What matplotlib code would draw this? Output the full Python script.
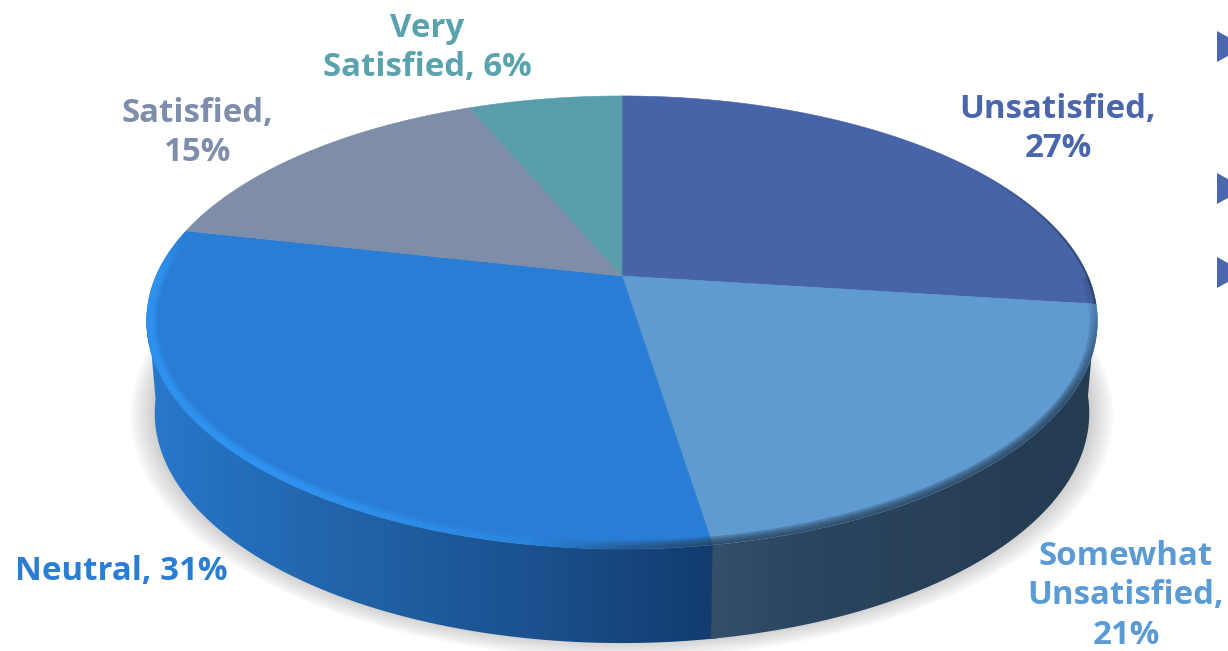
import numpy as np
import matplotlib
matplotlib.use("Agg")
import matplotlib.pyplot as plt
from matplotlib.collections import LineCollection
from matplotlib.colors import to_rgb
from matplotlib.patches import Polygon

# Slices, clockwise from 12 o'clock
categories = ['Unsatisfied', 'Somewhat Unsatisfied', 'Neutral', 'Satisfied', 'Very Satisfied']
values = [27.0, 20.5, 31.0, 15.2, 6.3]
labels = ['Unsatisfied,\n27%', 'Somewhat\nUnsatisfied,\n21%', 'Neutral, 31%',
          'Satisfied,\n15%', 'Very\nSatisfied, 6%']
face_colors = ['#4864a8', '#5f9ad1', '#2a7dd4', '#7f8ea8', '#589daa']
label_colors = ['#4a66ad', '#5b9bd5', '#2a7dd4', '#7d8dab', '#5aa2ae']
label_x = [1058, 1126, 121, 197, 427]
label_y = [129, 596, 571, 133, 48]

# Perspective of the disc, in pixels
CX, K = 622, 0.198
TOP = dict(r=466, s=215.7, cy=276, bulge=0.015)
BOTTOM = dict(r=458, s=221, cy=367.5, bulge=0.0)


def project(theta, r, s, cy, bulge, scale=1.0):
    t = np.radians(theta)
    x, y = scale * np.sin(t), scale * np.cos(t)
    d = 1 + K * y
    return CX + r * x / d, cy - s * (1 + bulge * (y < 0)) * y / d


fig = plt.figure(figsize=(12.28, 6.51), dpi=100)
ax = fig.add_axes([0, 0, 1, 1])
ax.axis('off')

edges = np.concatenate([[0], np.cumsum(values)]) * 3.6
full = np.linspace(0, 360, 721)

# Soft shadow under the disc
for grow in np.linspace(1.05, 1.0, 16):
    sx, sy = project(full, BOTTOM['r'], BOTTOM['s'], BOTTOM['cy'] - 2, 0.0, grow)
    ax.fill(sx, sy, color='#888888', alpha=0.027, lw=0, zorder=1)

# Side wall, horizontal gradient per visible slice (neutral first, the other overlaps it)
side_stops = {
    2: ([146, 300, 420, 550, 710, 730], ['#2878cc', '#2268b0', '#1f5c9e', '#1a4f8c', '#123c6e', '#123c6e']),
    1: ([700, 710, 800, 1000, 1098], ['#344f6b', '#344f6b', '#2c4660', '#263e55', '#243b50']),
}
side_ranges = {1: (edges[1], edges[2]), 2: (edges[2] - 1, 262)}
for n, (i, (xs, cols)) in enumerate(side_stops.items()):
    th = np.linspace(*side_ranges[i], 200)
    tx, ty = project(th, **TOP)
    bx, by = project(th, **BOTTOM)
    poly = Polygon(np.c_[np.r_[tx, bx[::-1]], np.r_[ty, by[::-1]]], closed=True,
                   transform=ax.transData, fc='none', ec='none')
    ax.add_patch(poly)
    grid = np.arange(min(xs), max(xs) + 1)
    rgb = np.array([to_rgb(c) for c in cols])
    img = np.stack([np.interp(grid, xs, rgb[:, k]) for k in range(3)], axis=-1)[None, :, :]
    im = ax.imshow(img, extent=[grid[0], grid[-1], 651, 250], aspect='auto', zorder=2 + n * 0.1)
    im.set_clip_path(poly)

# Top face
for i, color in enumerate(face_colors):
    th = np.linspace(edges[i], edges[i + 1], 200)
    x, y = project(th, **TOP)
    ax.fill(np.r_[CX, x], np.r_[TOP['cy'], y], color=color, lw=0.4, zorder=3)

tx, ty = project(full, **TOP)
top_clip = Polygon(np.c_[tx, ty], closed=True, transform=ax.transData, fc='none', ec='none')
ax.add_patch(top_clip)


def rim(th, alpha, color, width, scale=1.0):
    x, y = project(th, **TOP, scale=scale)
    pts = np.c_[x, y]
    segs = np.stack([pts[:-1], pts[1:]], axis=1)
    rgba = np.tile((*to_rgb(color), 1.0), (len(segs), 1))
    rgba[:, 3] = alpha[:-1]
    lc = LineCollection(segs, colors=rgba, linewidths=width, zorder=4, capstyle='butt')
    ax.add_collection(lc)
    lc.set_clip_path(top_clip)


# Thin dark edge on the right of the first slice
th = np.linspace(55, edges[1], 150)
rim(th, 0.7 * np.clip((th - 55) / 25, 0, 1), '#263c52', 2.5)

# Dark blurred rim on the right side and under the seam
th = np.linspace(90, edges[2] + 18, 300)
fade = np.clip((th - 90) / 30, 0.25, 1) * np.clip((edges[2] + 18 - th) / 18, 0, 1)
for w in [12, 9, 6, 3]:
    rim(th, 0.3 * fade, '#263c52', w)

# Bright bevel along the neutral slice
th = np.linspace(edges[2] + 8, edges[3] - 2, 300)
fade = np.clip((th - th[0]) / 40, 0, 1) * np.clip((th[-1] - th) / 10, 0, 1)
for w, a in [(10, 0.35), (7, 0.5), (4, 0.7)]:
    rim(th, a * fade, '#2f95f2', w, scale=0.993)

# Cropped bullets of the neighbouring text box
for y0 in [31, 173, 257]:
    ax.fill([1217, 1245, 1217], [y0, y0 + 15.5, y0 + 31], color='#4a66ad', lw=0, zorder=5)

for text, x, y, c in zip(labels, label_x, label_y, label_colors):
    ax.text(x, y, text, color=c, fontsize=23.8, fontweight='bold', family='Open Sans',
            ha='center', va='center', linespacing=1.25, zorder=6)

ax.set_xlim(0, 1228)
ax.set_ylim(651, 0)
fig.savefig('out.png', dpi=100, facecolor='white')
